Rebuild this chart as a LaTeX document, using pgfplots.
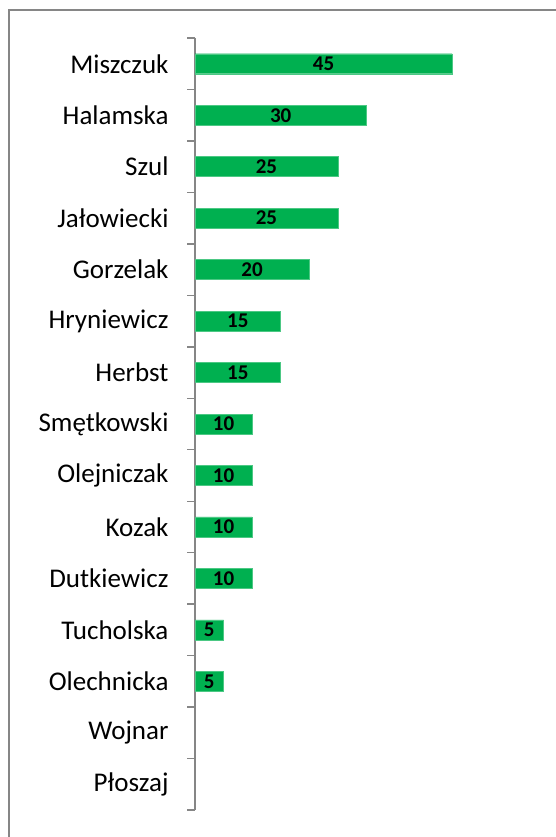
\documentclass[border=0pt]{standalone}
\usepackage{fontspec}
\setmainfont{Carlito}
\usepackage{pgfplots}
\pgfplotsset{compat=1.18}
\definecolor{barGreen}{RGB}{0,176,80}
\definecolor{frameGray}{RGB}{134,134,134}
\begin{document}
\begin{tikzpicture}
\path[use as bounding box] (0,0) rectangle (555pt,837pt);
% outer chart frame (only left and top edges lie inside the crop)
\draw[frameGray, line width=1.6pt] (9pt,-5pt) -- (9pt,827pt) -- (570pt,827pt);
\begin{axis}[
    at={(195pt,27pt)}, anchor=south west,
    scale only axis,
    width=342.7pt, height=772pt,
    xmin=0, xmax=60,
    ymin=-0.5, ymax=14.5,
    y dir=reverse,
    axis x line=none,
    axis y line*=left,
    y axis line style={frameGray, line width=1.4pt},
    ytick={0,...,14},
    yticklabels={Miszczuk,Halamska,Szul,Jałowiecki,Gorzelak,Hryniewicz,Herbst,Smętkowski,Olejniczak,Kozak,Dutkiewicz,Tucholska,Olechnicka,Wojnar,Płoszaj},
    minor ytick={-0.5,0.5,...,14.5},
    major tick length=0pt,
    minor tick length=8pt,
    tick align=outside,
    minor tick style={frameGray, line width=1.4pt},
    yticklabel style={font=\fontsize{27}{31}\selectfont, xshift=-23pt},
    clip=false,
]
\addplot[xbar, bar width=20pt, bar shift=0pt, fill=barGreen, draw=barGreen!70!white, line width=0.4pt]
    coordinates {(45,0) (30,1) (25,2) (25,3) (20,4) (15,5) (15,6) (10,7) (10,8) (10,9) (10,10) (5,11) (5,12)};
% value labels, centred on each bar
\addplot[draw=none, mark=none, forget plot,
    point meta=explicit symbolic,
    nodes near coords={\pgfplotspointmeta},
    every node near coord/.style={anchor=center, font=\bfseries\fontsize{21}{24}\selectfont, text=black}]
    coordinates {(22.5,0)[45] (15,1)[30] (12.5,2)[25] (12.5,3)[25] (10,4)[20] (7.5,5)[15] (7.5,6)[15]
                 (5,7)[10] (5,8)[10] (5,9)[10] (5,10)[10] (2.5,11)[5] (2.5,12)[5]};
\end{axis}
\end{tikzpicture}
\end{document}
